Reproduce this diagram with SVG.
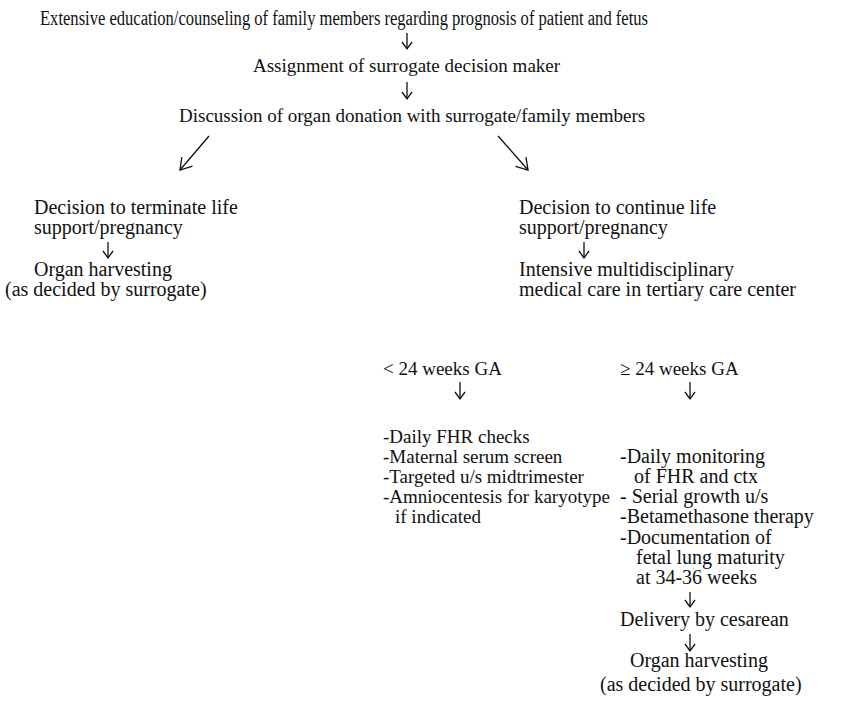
<svg xmlns="http://www.w3.org/2000/svg" width="847" height="717" viewBox="0 0 847 717">
<style>
text{font-family:"Liberation Serif","Times New Roman",serif;font-size:19px;fill:#111}
.b text{font-size:20px}
.c{stroke:#111;stroke-width:1.3;fill:none}
</style>
<defs>
<marker id="ah" viewBox="0 0 12 12" refX="10" refY="6" markerWidth="12" markerHeight="12" markerUnits="userSpaceOnUse" orient="auto">
<path d="M3,1 L10,6 L3,11" fill="none" stroke="#111" stroke-width="1.3"/>
</marker>
<marker id="ahl" viewBox="0 0 16 16" refX="14" refY="8" markerWidth="16" markerHeight="16" markerUnits="userSpaceOnUse" orient="auto">
<path d="M3,1 L14,8 L3,15" fill="none" stroke="#111" stroke-width="1.3"/>
</marker>
</defs>
<rect width="847" height="717" fill="#fff"/>
<g id="n1"><text x="40" y="25" style="font-size:20px" textLength="608" lengthAdjust="spacingAndGlyphs">Extensive education/counseling of family members regarding prognosis of patient and fetus</text></g>
<g id="n2"><text x="253" y="72">Assignment of surrogate decision maker</text></g>
<g id="n3"><text x="179" y="122">Discussion of organ donation with surrogate/family members</text></g>
<g id="n4" class="b"><text x="34" y="214">Decision to terminate life</text><text x="34" y="234">support/pregnancy</text></g>
<g id="n5" class="b"><text x="34" y="276">Organ harvesting</text><text x="5" y="296">(as decided by surrogate)</text></g>
<g id="n6" class="b"><text x="519" y="214">Decision to continue life</text><text x="519" y="234">support/pregnancy</text></g>
<g id="n7" class="b"><text x="519" y="276">Intensive multidisciplinary</text><text x="519" y="296">medical care in tertiary care center</text></g>
<g id="n8"><text x="383" y="375">&lt; 24 weeks GA</text></g>
<g id="n9"><text x="620" y="375">≥ 24 weeks GA</text></g>
<g id="n10"><text x="383" y="443">-Daily FHR checks</text><text x="383" y="463">-Maternal serum screen</text><text x="383" y="483">-Targeted u/s midtrimester</text><text x="383" y="503">-Amniocentesis for karyotype</text><text x="395" y="523">if indicated</text></g>
<g id="n11" class="b"><text x="620" y="463">-Daily monitoring</text><text x="634" y="483">of FHR and ctx</text><text x="620" y="503">- Serial growth u/s</text><text x="620" y="523">-Betamethasone therapy</text><text x="620" y="544">-Documentation of</text><text x="636" y="564">fetal lung maturity</text><text x="636" y="584">at 34-36 weeks</text></g>
<g id="n12" class="b"><text x="620" y="626">Delivery by cesarean</text></g>
<g id="n13" class="b"><text x="630" y="667">Organ harvesting</text><text x="600" y="691">(as decided by surrogate)</text></g>
<g id="connectors">
<path class="c" d="M407,33 V49" marker-end="url(#ah)"/>
<path class="c" d="M407,82 V99" marker-end="url(#ah)"/>
<path class="c" d="M209,136 L180,170" marker-end="url(#ahl)"/>
<path class="c" d="M498,136 L528,170" marker-end="url(#ahl)"/>
<path class="c" d="M108,242 V258" marker-end="url(#ah)"/>
<path class="c" d="M584,242 V258" marker-end="url(#ah)"/>
<path class="c" d="M460,382 V399" marker-end="url(#ah)"/>
<path class="c" d="M690,382 V399" marker-end="url(#ah)"/>
<path class="c" d="M690,592 V607" marker-end="url(#ah)"/>
<path class="c" d="M690,634 V651" marker-end="url(#ah)"/>
</g>
</svg>
